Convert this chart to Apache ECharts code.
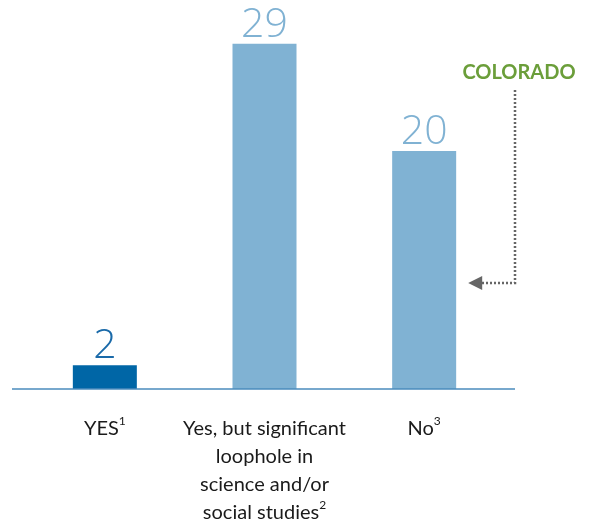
<!DOCTYPE html>
<html><head><meta charset="utf-8">
<script src="https://cdn.jsdelivr.net/npm/echarts@6/dist/echarts.min.js"></script>
<style>html,body{margin:0;padding:0;background:#fff}#c{width:591px;height:527px}</style>
</head><body><div id="c"></div>
<script>
const categories = ['YES{sup|1}', 'Yes, but significant\nloophole in\nscience and/or\nsocial studies{sup|2}', 'No{sup|3}'];
const values = [2, 29, 20];
const barColors = ['#0066a6', '#80b2d3', '#80b2d3'];
const labelColors = ['#1a6aa9', '#80b2d3', '#80b2d3'];
const annotationText = 'COLORADO';

const chart = echarts.init(document.getElementById('c'));
const option = {
  animation: false,
  grid: { left: 25, width: 479, top: 8, height: 382.6 },
  xAxis: {
    type: 'category', data: categories,
    axisLine: { show: false }, axisTick: { show: false },
    axisLabel: {
      interval: 0, hideOverlap: false,
      margin: 26, fontFamily: 'Lato', fontSize: 20, color: '#1a1a1a', lineHeight: 28,
      rich: { sup: { fontSize: 12, fontFamily: 'Lato', color: '#1a1a1a', lineHeight: 24, verticalAlign: 'top' } }
    }
  },
  yAxis: { type: 'value', min: 0, max: 32, show: false, splitLine: { show: false } },
  series: [{
    type: 'bar', barWidth: 64,
    data: values.map((v, i) => ({ value: v, itemStyle: { color: barColors[i] },
      label: { color: labelColors[i] } })),
    label: { show: true, position: 'top', distance: -2, fontFamily: 'Open Sans', fontSize: 41, fontWeight: 300 }
  }]
};
chart.setOption(option);

const y0 = chart.convertToPixel({ gridIndex: 0 }, [0, 0])[1];
const p3 = chart.convertToPixel({ seriesIndex: 0 }, [2, values[2]]);
const lx = 515, ty = 90, ay = y0 - 106;
chart.setOption({
  graphic: [
    { type: 'line', shape: { x1: 12, y1: y0, x2: 515, y2: y0 }, style: { stroke: '#4a8bbd', lineWidth: 1.5 }, z: 10 },
    { type: 'text', style: { text: annotationText, x: 519, y: 73, align: 'center', verticalAlign: 'middle',
      fill: '#6b9e3a', font: 'bold 20px Lato' } },
    { type: 'polyline', shape: { points: [[lx, ty], [lx, ay], [p3[0] + 57, ay]] },
      style: { stroke: '#666', lineWidth: 2.5, lineDash: [2, 2], fill: null } },
    { type: 'polygon', shape: { points: [[p3[0] + 44, ay], [p3[0] + 58, ay - 7], [p3[0] + 58, ay + 7]] },
      style: { fill: '#666' } }
  ]
});
</script></body></html>
